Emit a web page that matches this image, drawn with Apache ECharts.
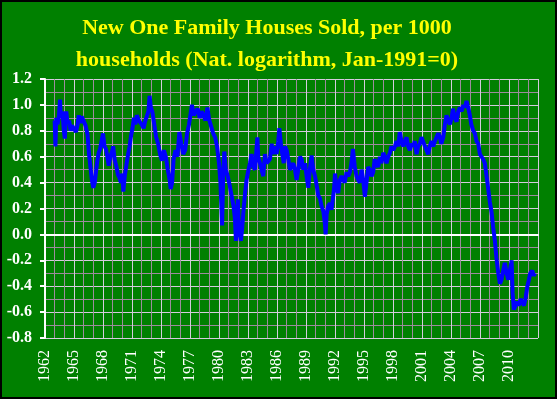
<!DOCTYPE html>
<html>
<head>
<meta charset="utf-8">
<script src="https://cdn.jsdelivr.net/npm/echarts@6/dist/echarts.min.js"></script>
<style>
  html, body { margin: 0; padding: 0; background: #000; }
  #chart { position: absolute; left: 2px; top: 2px; width: 553px; height: 395px; }
</style>
</head>
<body>
<div id="chart"></div>
<script>
// monthly-ish readings of the log series (Jan-1991 = 0)
const years = [
  1963.0, 1963.08, 1963.17, 1963.3, 1963.45, 1963.55, 1963.65, 1963.8, 1963.95, 1964.05,
  1964.2, 1964.35, 1964.5, 1964.65, 1964.8, 1965.0, 1965.2, 1965.35, 1965.5, 1965.65,
  1965.8, 1966.0, 1966.2, 1966.4, 1966.55, 1966.7, 1966.85, 1967.0, 1967.15, 1967.3,
  1967.4, 1967.55, 1967.7, 1967.85, 1968.0, 1968.15, 1968.3, 1968.45, 1968.6, 1968.75,
  1968.9, 1969.05, 1969.2, 1969.4, 1969.55, 1969.7, 1969.85, 1970.0, 1970.1, 1970.25,
  1970.45, 1970.6, 1970.75, 1970.9, 1971.05, 1971.2, 1971.35, 1971.5, 1971.7, 1971.85,
  1972.0, 1972.2, 1972.35, 1972.55, 1972.7, 1972.82, 1972.95, 1973.1, 1973.3, 1973.5,
  1973.7, 1973.9, 1974.1, 1974.3, 1974.5, 1974.7, 1974.9, 1975.0, 1975.15, 1975.3,
  1975.5, 1975.7, 1975.9, 1976.1, 1976.3, 1976.5, 1976.7, 1976.9, 1977.1, 1977.2,
  1977.4, 1977.6, 1977.8, 1978.0, 1978.2, 1978.4, 1978.6, 1978.8, 1979.0, 1979.2,
  1979.4, 1979.6, 1979.8, 1980.0, 1980.15, 1980.25, 1980.32, 1980.45, 1980.55, 1980.7,
  1980.9, 1981.1, 1981.3, 1981.5, 1981.65, 1981.75, 1981.85, 1981.95, 1982.05, 1982.27,
  1982.4, 1982.55, 1982.7, 1982.85, 1983.0, 1983.2, 1983.37, 1983.55, 1983.72, 1983.9,
  1983.97, 1984.06, 1984.24, 1984.4, 1984.58, 1984.75, 1984.93, 1985.1, 1985.27, 1985.45,
  1985.6, 1985.79, 1985.96, 1986.13, 1986.24, 1986.4, 1986.55, 1986.7, 1986.82, 1987.0,
  1987.17, 1987.34, 1987.5, 1987.68, 1987.86, 1988.03, 1988.2, 1988.37, 1988.55, 1988.72,
  1988.9, 1989.06, 1989.24, 1989.4, 1989.58, 1989.75, 1989.93, 1990.1, 1990.27, 1990.44,
  1990.6, 1990.79, 1990.96, 1991.03, 1991.13, 1991.3, 1991.48, 1991.64, 1991.75, 1991.9,
  1992.0, 1992.16, 1992.33, 1992.5, 1992.68, 1992.85, 1993.0, 1993.2, 1993.37, 1993.54,
  1993.7, 1993.85, 1994.05, 1994.23, 1994.4, 1994.57, 1994.75, 1994.92, 1995.09, 1995.26,
  1995.43, 1995.6, 1995.78, 1995.95, 1996.1, 1996.3, 1996.47, 1996.64, 1996.8, 1996.99,
  1997.16, 1997.33, 1997.5, 1997.68, 1997.85, 1998.02, 1998.2, 1998.36, 1998.54, 1998.7,
  1998.88, 1999.06, 1999.23, 1999.4, 1999.57, 1999.75, 1999.92, 2000.1, 2000.26, 2000.44,
  2000.6, 2000.78, 2000.95, 2001.1, 2001.3, 2001.47, 2001.64, 2001.8, 2001.99, 2002.16,
  2002.33, 2002.5, 2002.68, 2002.85, 2003.0, 2003.2, 2003.37, 2003.54, 2003.7, 2003.89,
  2004.06, 2004.2, 2004.4, 2004.57, 2004.75, 2004.92, 2005.1, 2005.27, 2005.44, 2005.6,
  2005.78, 2005.95, 2006.1, 2006.3, 2006.47, 2006.64, 2006.82, 2006.99, 2007.16, 2007.33,
  2007.5, 2007.68, 2007.85, 2008.02, 2008.2, 2008.37, 2008.54, 2008.7, 2008.89, 2009.06,
  2009.23, 2009.4, 2009.57, 2009.75, 2009.92, 2010.1, 2010.27, 2010.37, 2010.5, 2010.68,
  2010.85, 2011.0, 2011.2, 2011.37, 2011.54, 2011.7, 2011.9, 2012.06, 2012.2, 2012.4,
  2012.57, 2012.68
]

const values = [
  0.88, 0.68, 0.90, 0.85, 0.92, 1.04, 0.90, 0.95, 0.80, 0.74,
  0.95, 0.85, 0.88, 0.80, 0.84, 0.84, 0.79, 0.84, 0.92, 0.86,
  0.91, 0.90, 0.84, 0.77, 0.62, 0.52, 0.42, 0.36, 0.40, 0.50,
  0.56, 0.63, 0.66, 0.67, 0.78, 0.68, 0.66, 0.60, 0.53, 0.60,
  0.63, 0.68, 0.58, 0.52, 0.46, 0.44, 0.40, 0.47, 0.33, 0.45,
  0.55, 0.62, 0.68, 0.76, 0.82, 0.90, 0.85, 0.92, 0.88, 0.88,
  0.85, 0.82, 0.87, 0.88, 0.95, 1.07, 0.98, 0.95, 0.85, 0.75,
  0.70, 0.62, 0.57, 0.65, 0.60, 0.50, 0.42, 0.35, 0.40, 0.58,
  0.65, 0.60, 0.79, 0.70, 0.62, 0.65, 0.78, 0.85, 0.95, 1.00,
  0.92, 0.95, 0.97, 0.90, 0.95, 0.92, 0.88, 0.98, 0.88, 0.83,
  0.78, 0.75, 0.68, 0.55, 0.40, 0.20, 0.07, 0.50, 0.64, 0.50,
  0.45, 0.38, 0.30, 0.22, 0.12, -0.05, 0.12, 0.27, 0.05, -0.05,
  0.05, 0.20, 0.32, 0.42, 0.48, 0.55, 0.62, 0.52, 0.50, 0.68,
  0.75, 0.60, 0.55, 0.50, 0.45, 0.62, 0.55, 0.55, 0.58, 0.70,
  0.62, 0.68, 0.62, 0.72, 0.82, 0.70, 0.62, 0.55, 0.68, 0.65,
  0.58, 0.50, 0.52, 0.55, 0.50, 0.42, 0.50, 0.60, 0.58, 0.50,
  0.55, 0.45, 0.36, 0.50, 0.61, 0.50, 0.45, 0.38, 0.30, 0.28,
  0.22, 0.18, 0.08, 0.00, 0.15, 0.22, 0.24, 0.19, 0.20, 0.35,
  0.47, 0.35, 0.32, 0.42, 0.45, 0.42, 0.40, 0.48, 0.45, 0.48,
  0.55, 0.66, 0.52, 0.45, 0.42, 0.40, 0.50, 0.42, 0.29, 0.40,
  0.52, 0.50, 0.45, 0.48, 0.58, 0.58, 0.52, 0.60, 0.55, 0.63,
  0.60, 0.55, 0.60, 0.63, 0.68, 0.65, 0.68, 0.72, 0.68, 0.79,
  0.72, 0.68, 0.72, 0.75, 0.68, 0.65, 0.70, 0.68, 0.72, 0.62,
  0.68, 0.70, 0.75, 0.72, 0.68, 0.65, 0.62, 0.68, 0.72, 0.68,
  0.72, 0.75, 0.78, 0.75, 0.70, 0.75, 0.85, 0.92, 0.88, 0.85,
  0.90, 0.97, 0.90, 0.87, 0.95, 0.98, 0.95, 1.00, 0.98, 1.03,
  0.98, 0.92, 0.85, 0.80, 0.78, 0.72, 0.70, 0.62, 0.60, 0.58,
  0.55, 0.45, 0.35, 0.25, 0.17, 0.05, -0.05, -0.18, -0.30, -0.38,
  -0.35, -0.28, -0.22, -0.30, -0.35, -0.28, -0.20, -0.45, -0.58, -0.55,
  -0.52, -0.55, -0.50, -0.52, -0.55, -0.50, -0.40, -0.35, -0.30, -0.28,
  -0.32, -0.30
]

const titleText = 'New One Family Houses Sold, per 1000\nhouseholds (Nat. logarithm, Jan-1991=0)'

const majorLine = '#d4ccdc'
const minorLine = '#9c8c9c'

const chart = echarts.init(document.getElementById('chart'))

const option = {
  backgroundColor: '#008000',
  animation: false,
  title: {
    text: titleText,
    left: 260,
    top: 5,
    textAlign: 'center',
    textStyle: {
      color: '#ffff00',
      fontFamily: 'Liberation Serif',
      fontWeight: 'bold',
      fontSize: 22,
      lineHeight: 32
    }
  },
  grid: {
    left: 43,
    right: 17,
    top: 77,
    bottom: 59
  },
  xAxis: {
    type: 'value',
    min: 1962,
    max: 2013,
    interval: 3,
    axisLine: {
      lineStyle: { color: '#ffffff', width: 2 }
    },
    axisTick: { show: false },
    axisLabel: {
      rotate: 90,
      margin: 12,
      color: '#ffffff',
      fontFamily: 'Liberation Serif',
      fontSize: 16,
      showMaxLabel: false,
      formatter: (v) => String(v)
    },
    splitLine: {
      show: true,
      lineStyle: { color: majorLine, width: 1 }
    },
    minorTick: { show: false, splitNumber: 3 },
    minorSplitLine: {
      show: true,
      lineStyle: { color: minorLine, width: 1 }
    }
  },
  yAxis: {
    type: 'value',
    min: -0.8,
    max: 1.2,
    interval: 0.2,
    axisLine: {
      show: true,
      lineStyle: { color: '#ffffff', width: 2 }
    },
    axisTick: {
      show: true,
      length: 5,
      lineStyle: { color: '#ffffff', width: 2 }
    },
    axisLabel: {
      margin: 13,
      color: '#ffffff',
      fontFamily: 'Liberation Serif',
      fontWeight: 'bold',
      fontSize: 16,
      formatter: (v) => v.toFixed(1)
    },
    splitLine: {
      show: true,
      lineStyle: { color: majorLine, width: 1 }
    },
    minorTick: { show: false, splitNumber: 2 },
    minorSplitLine: {
      show: true,
      lineStyle: { color: minorLine, width: 1 }
    }
  },
  series: [
    {
      type: 'line',
      data: years.map((y, i) => [y, values[i]]),
      showSymbol: false,
      lineStyle: { color: '#0000ff', width: 4 },
      itemStyle: { color: '#0000ff' }
    }
  ]
}

chart.setOption(option)
</script>
</body>
</html>
